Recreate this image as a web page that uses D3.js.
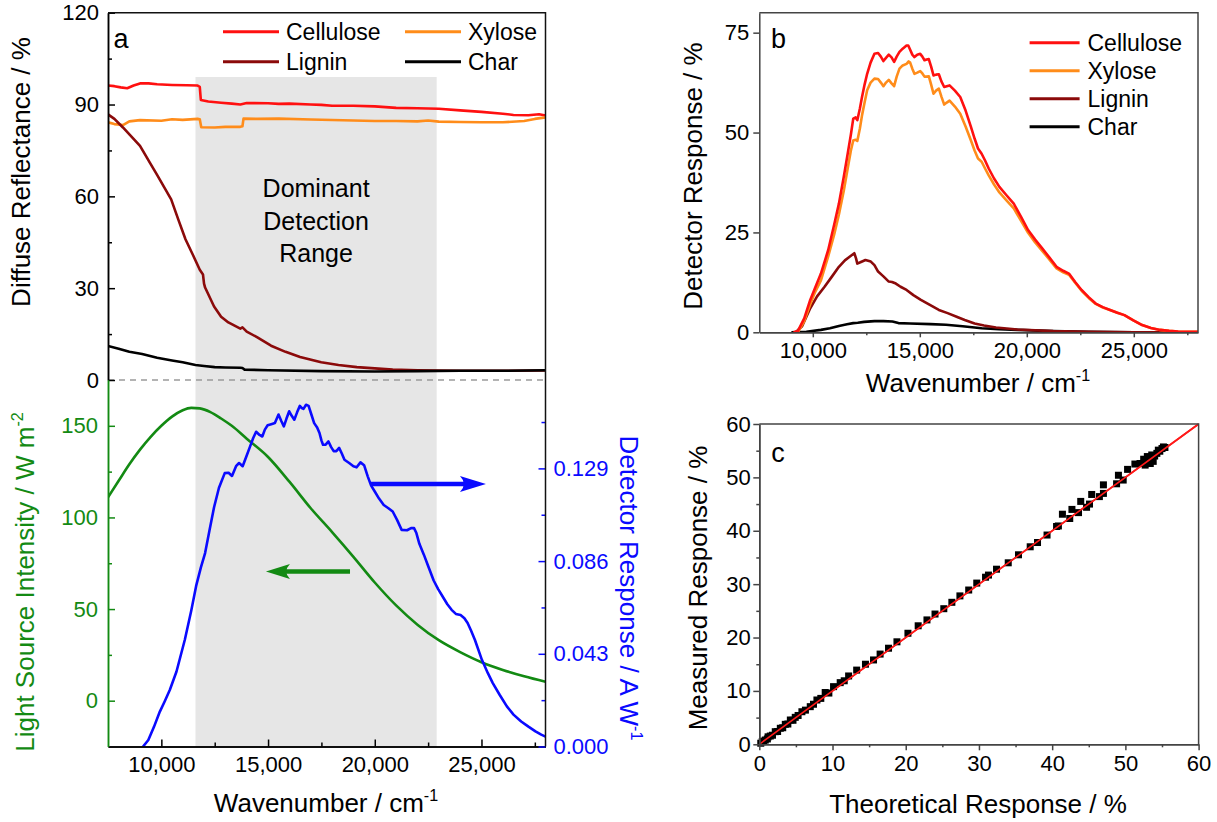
<!DOCTYPE html>
<html><head><meta charset="utf-8">
<script src="https://cdn.jsdelivr.net/npm/d3@7"></script>
<style>
body{margin:0;background:#fff;}
text{font-family:"Liberation Sans",Arial,sans-serif;}
</style></head><body>
<svg id="chart" width="1217" height="822"></svg>
<script>
// ---------------- DATA ----------------
const seriesNames = ["Cellulose","Xylose","Lignin","Char"];
const seriesColors = ["#ff1010","#ff8c1a","#8b0a0a","#000000"];

// Panel a (top): diffuse reflectance / %  [wavenumber, value]
const reflCellulose = [[7500,96.2],[7800,96.0],[8100,95.6],[8400,95.3],[8700,96.2],[9000,96.9],[9400,96.9],[9800,96.6],[10500,96.4],[11200,96.3],[11700,96.2],[11800,95.8],[11850,91.5],[12200,91.0],[12800,90.6],[13300,90.3],[13700,90.0],[14000,90.5],[15000,90.4],[15500,90.2],[16000,90.3],[17000,90.0],[17500,89.9],[18000,89.6],[19000,89.6],[20000,89.4],[21000,88.9],[22000,88.8],[23000,88.6],[24000,88.1],[25000,87.6],[26000,87.0],[26500,86.6],[27200,86.5],[27700,86.8],[28000,86.4]];
const reflXylose = [[7500,84.2],[7800,83.6],[8200,83.3],[8500,84.5],[9000,84.9],[10000,84.7],[10500,85.2],[11000,85.0],[11700,85.3],[11800,85.2],[11870,82.6],[12500,82.5],[13000,82.7],[13700,82.7],[13800,82.9],[13850,85.4],[14500,85.3],[15500,85.4],[17000,85.1],[19000,84.8],[20000,84.6],[21000,84.6],[22000,84.5],[22500,84.8],[23000,84.4],[24000,84.3],[25000,84.2],[26000,84.2],[27000,84.6],[27500,85.3],[28000,85.8]];
const reflLignin = [[7500,86.8],[7800,85.3],[8200,82.5],[8600,79.5],[9000,76.5],[9460,71],[9800,67],[10130,63],[10460,59],[10800,52.3],[11130,46],[11470,41],[11800,36],[11950,34.5],[12000,31.5],[12050,30.2],[12470,24],[12800,20.7],[13140,18.8],[13700,16.8],[13800,17.2],[14000,15.8],[14480,14.0],[15140,11.2],[15820,9.2],[16500,7.5],[17490,5.8],[18300,4.9],[19160,4.2],[20000,3.8],[20840,3.4],[22000,3.2],[24000,3.0],[26000,3.0],[28000,3.1]];
const reflChar = [[7500,11.1],[8000,10.2],[8500,9.2],[9100,8.5],[9800,7.3],[10500,6.4],[11000,5.8],[11600,4.9],[12000,4.6],[12500,4.2],[13000,4.1],[13700,4.0],[13800,3.9],[13900,3.4],[15000,3.2],[17500,2.9],[20000,2.8],[22000,2.9],[24000,3.0],[26000,3.0],[28000,3.2]];

// Panel a (bottom): light source intensity / W m^-2
const lightSource = [[7500,111],[8000,120],[8500,129],[9000,137],[9500,144],[10000,150],[10500,155],[11000,158.5],[11400,159.8],[11800,159.5],[12300,157.5],[12800,154],[13300,150],[14000,143],[15000,133],[16000,119.5],[17000,105],[18000,92],[19000,78.5],[20000,64.5],[21000,52],[22000,41.5],[23000,33],[24000,26.5],[25000,21],[26000,16.8],[27000,13.3],[28000,10.3]];
// Panel a (bottom): detector response / A W^-1
const detectorAW = [[8900,-0.003],[9145,0],[9390,0.003],[9650,0.009],[9930,0.0162],[10160,0.021],[10400,0.0263],[10710,0.0348],[11100,0.0495],[11400,0.063],[11630,0.0745],[11850,0.083],[12050,0.0897],[12250,0.1],[12470,0.111],[12700,0.12],[12970,0.1268],[13150,0.127],[13310,0.1255],[13500,0.13],[13640,0.1315],[13810,0.130],[14000,0.135],[14150,0.139],[14300,0.143],[14440,0.146],[14600,0.1445],[14730,0.1438],[14850,0.147],[14980,0.149],[15150,0.1495],[15320,0.150],[15490,0.154],[15620,0.151],[15740,0.1485],[15860,0.152],[15990,0.1555],[16100,0.1535],[16230,0.1516],[16360,0.155],[16490,0.158],[16580,0.157],[16660,0.1566],[16780,0.1585],[16900,0.158],[17030,0.154],[17160,0.150],[17300,0.148],[17410,0.1454],[17500,0.142],[17575,0.140],[17700,0.140],[17830,0.1415],[17950,0.139],[18075,0.137],[18200,0.137],[18330,0.1385],[18450,0.136],[18580,0.133],[18800,0.1315],[19000,0.130],[19150,0.1295],[19330,0.1318],[19500,0.1305],[19670,0.1253],[19830,0.121],[20000,0.1183],[20200,0.115],[20420,0.112],[20640,0.1105],[20840,0.109],[21050,0.105],[21260,0.1005],[21510,0.1003],[21700,0.1013],[21840,0.1013],[21950,0.099],[22090,0.094],[22300,0.089],[22510,0.0835],[22760,0.077],[22970,0.073],[23180,0.0696],[23400,0.066],[23600,0.0634],[23800,0.0615],[24020,0.061],[24200,0.0595],[24350,0.0573],[24500,0.054],[24690,0.0495],[25020,0.0402],[25300,0.034],[25530,0.0294],[25850,0.024],[26190,0.0186],[26500,0.0148],[26860,0.0116],[27200,0.0092],[27530,0.007],[27800,0.0055],[28000,0.0046]];

// shaded dominant detection range [from, to] wavenumber, and its top (reflectance %)
const detectionRange = [11600, 22900];
const detectionRangeTop = 99;
// arrows: [x1, x2, y] in data units
const arrowDetector = [19820, 25210, 0.1218];
const arrowLight = [18840, 14900, 70.5];

// Panel b: detector response / %
const respCellulose = [[9100,0],[9300,0.3],[9600,3.5],[9880,8.1],[10100,11],[10380,14.7],[10720,20.6],[11000,27],[11220,32.2],[11450,39],[11630,44.7],[11780,49.5],[11890,53.5],[12000,53.8],[12080,53.1],[12200,56],[12300,58.9],[12420,62],[12540,64.7],[12700,67.5],[12880,69.7],[13050,69.9],[13180,69],[13300,67.9],[13420,68.7],[13550,69.5],[13680,68.8],[13800,67.7],[13920,69],[14050,70.2],[14200,71],[14380,71.8],[14460,71.8],[14550,70.7],[14650,69.5],[14750,68.9],[14880,69.5],[15020,69.7],[15120,69],[15220,68.1],[15320,68.3],[15420,68.4],[15530,66.5],[15640,64.3],[15760,64.5],[15890,64.6],[16010,62.8],[16140,61.4],[16260,61.6],[16390,61.8],[16640,60.5],[16890,58.9],[17140,55.5],[17390,51.4],[17560,48.5],[17720,46],[17890,44.7],[18050,43],[18220,41],[18470,38.5],[18720,36.4],[19050,34.3],[19390,32.2],[19720,29],[20060,25.6],[20390,23.2],[20720,21],[21060,18.7],[21390,16.4],[21700,15.4],[21970,14.7],[22260,12.6],[22560,10.6],[22890,8.8],[23220,7.2],[23550,6.3],[23890,5.6],[24230,4.9],[24560,4.3],[24980,3],[25390,1.8],[25800,1.1],[26230,0.6],[26650,0.35],[27070,0.2],[27500,0.12],[28000,0.1]];
const respXylose = [[9300,0],[9600,2.8],[9880,7],[10100,10],[10380,13],[10720,19],[11000,24.5],[11220,29.5],[11450,35.5],[11630,41],[11780,45.5],[11890,48],[12000,48.2],[12080,47.9],[12200,51],[12300,54.3],[12420,57.5],[12540,60.6],[12700,62.5],[12880,63.5],[13050,63.4],[13180,62.5],[13300,61.6],[13420,62.5],[13550,63.2],[13680,62.3],[13800,61.6],[13920,64],[14050,66],[14200,66.8],[14380,67.2],[14480,67.8],[14550,67.5],[14650,66],[14750,64.7],[14880,65],[15020,65.4],[15120,64.8],[15220,64],[15320,64],[15420,64.1],[15530,62],[15640,59.7],[15760,60.5],[15890,61],[16010,59],[16140,57],[16260,57.5],[16390,58],[16640,56.5],[16890,54.7],[17140,51.5],[17390,48],[17560,45.5],[17720,43.5],[17890,42.7],[18050,41],[18220,39.3],[18470,37],[18720,35],[19050,33],[19390,31],[19720,28],[20060,24.9],[20390,22.5],[20720,20.4],[21060,18.2],[21390,16],[21700,15],[21970,14.4],[22260,12.4],[22560,10.4],[22890,8.6],[23220,7.1],[23550,6.2],[23890,5.6],[24230,4.9],[24560,4.3],[24980,3],[25390,1.8],[25800,1.1],[26230,0.6],[26650,0.35],[27070,0.2],[27500,0.12],[28000,0.1]];
const respLignin = [[9200,0],[9500,1.5],[9880,6],[10200,9],[10550,11.4],[10900,14],[11220,16.4],[11500,18],[11720,18.9],[11940,19.8],[12020,18.5],[12080,17.2],[12250,17.6],[12460,18.1],[12710,17.7],[12880,16.8],[13050,15.2],[13300,14],[13550,12.7],[13700,12.6],[13880,12.2],[14100,11.4],[14380,10.6],[14700,9.3],[15050,8.1],[15450,6.9],[15890,5.6],[16300,4.8],[16720,3.9],[17100,3.1],[17560,2.2],[18000,1.7],[18560,1.2],[19560,0.7],[21230,0.3],[22890,0.1],[25000,0.02],[28000,0]];
const respChar = [[9000,0],[9700,0.15],[10380,0.6],[10800,1.0],[11220,1.6],[11600,2],[11890,2.3],[12100,2.4],[12400,2.6],[12880,2.8],[13300,2.8],[13720,2.7],[14000,2.3],[14550,2.2],[15500,2.05],[16220,1.9],[17000,1.5],[17890,1.0],[18700,0.8],[19560,0.6],[21230,0.3],[22890,0.1],[25000,0.03],[28000,0]];

// Panel c: [theoretical %, measured %]
const theoreticalVsMeasured = [[0.2,0.2],[0.4,0.5],[0.6,0.6],[0.82,0.8],[1.1,1.0],[1.2,1.4],[1.5,1.55],[1.8,1.7],[2.18,2.36],[2.5,2.4],[2.87,3.0],[3.2,3.1],[3.55,3.74],[3.9,3.8],[4.24,4.55],[4.6,4.5],[4.91,5.05],[5.3,5.4],[5.82,6.1],[6.3,6.4],[6.96,7.05],[7.4,7.5],[7.87,8.3],[8.4,8.6],[9.0,9.7],[9.5,9.6],[10.14,10.8],[11.05,11.55],[11.6,11.9],[12.2,12.8],[13.3,13.9],[14.5,15.0],[15.6,15.8],[16.5,16.9],[17.65,18.0],[18.8,19.2],[20.3,20.8],[21.7,22.2],[22.9,23.3],[24.0,24.4],[25.2,25.4],[26.3,26.6],[27.4,27.8],[28.6,28.9],[29.7,30.2],[30.9,31.3],[31.3,31.7],[32.4,32.8],[34.0,34.0],[35.4,35.5],[37.0,37.0],[38.0,37.8],[39.3,39.2],[40.6,40.8],[40.85,40.9],[41.4,43.1],[42.4,42.3],[42.7,44.0],[43.6,43.4],[43.9,45.5],[44.7,44.4],[45.1,45.0],[45.4,46.8],[46.45,46.4],[47.0,48.6],[47.0,47.0],[48.8,48.8],[49.05,50.4],[49.7,49.5],[50.3,51.5],[51.3,52.5],[52.0,52.6],[52.5,53.4],[52.7,52.3],[53.2,53.6],[53.6,54.2],[53.8,53.0],[54.3,54.5],[54.5,55.1],[55.0,55.4],[55.2,55.7],[53.4,52.6],[53.0,53.9],[54.7,54.9],[54.0,54.0],[55.4,55.6]];
const idealLine = [[0,0],[60,60]];

// tick values
const wnMajor = [10000,15000,20000,25000];
const wnMinor = [12500,17500,22500,27500];
const reflMajor = [0,30,60,90,120];
const reflMinor = [15,45,75,105];
const lightMajor = [0,50,100,150];
const lightMinor = [25,75,125];
const detMajor = [0,0.043,0.086,0.129];
const detMinor = [0.0215,0.0645,0.1075,0.1505];
const respMajor = [0,25,50,75];
const cMajor = [0,10,20,30,40,50,60];
const cMinor = [5,15,25,35,45,55];

// ---------------- DRAW ----------------
const svg = d3.select("#chart");
const FONT = '"Liberation Sans", Arial, sans-serif';
const green = "#138a13", blue = "#0a0aff";
const fmtWn = d3.format(",");

function styleAxis(g, color, fs) {
  g.selectAll("path.domain").attr("stroke", color).attr("stroke-width", 1.5);
  g.selectAll(".tick line").attr("stroke", color).attr("stroke-width", 1.5);
  g.selectAll(".tick text").attr("fill", color).attr("font-size", fs).attr("font-family", FONT);
}
function supLabel(sel, main, sup, fs) {
  sel.append("tspan").text(main);
  sel.append("tspan").attr("dy", -fs*0.42).attr("font-size", fs*0.62).text(sup);
}

// ===== Panel a =====
const xA = d3.scaleLinear().domain([7500,28000]).range([108,545.5]);
const yRefl = d3.scaleLinear().domain([0,120]).range([380,12.7]);
const yLight = d3.scaleLinear().domain([-25,175]).range([746.5,380]);
const yDet = d3.scaleLinear().domain([0,0.17]).range([746.5,380]);

const defs = svg.append("defs");
defs.append("clipPath").attr("id","clipA").append("rect")
  .attr("x",108).attr("y",12.7).attr("width",437.5).attr("height",733.8);
defs.append("clipPath").attr("id","clipB").append("rect")
  .attr("x",759).attr("y",12.7).attr("width",439).attr("height",320);

// shaded range
svg.append("rect")
  .attr("x", xA(detectionRange[0])).attr("width", xA(detectionRange[1]) - xA(detectionRange[0]))
  .attr("y", yRefl(detectionRangeTop)).attr("height", yLight(-25) - yRefl(detectionRangeTop))
  .attr("fill", "#e6e6e6");

// zero dashed line
svg.append("line").attr("x1", xA(7500)).attr("x2", xA(28000))
  .attr("y1", yRefl(0)).attr("y2", yRefl(0))
  .attr("stroke", "#9a9a9a").attr("stroke-width", 1.5).attr("stroke-dasharray", "6,5");

const gA = svg.append("g").attr("clip-path","url(#clipA)");
const lineRefl = d3.line().x(d => xA(d[0])).y(d => yRefl(d[1]));
[reflCellulose, reflXylose, reflLignin, reflChar].forEach((data, i) => {
  gA.append("path").datum(data).attr("d", lineRefl)
    .attr("fill","none").attr("stroke", seriesColors[i]).attr("stroke-width", 2.6)
    .attr("stroke-linejoin","round");
});
gA.append("path").datum(lightSource)
  .attr("d", d3.line().curve(d3.curveMonotoneX).x(d => xA(d[0])).y(d => yLight(d[1])))
  .attr("fill","none").attr("stroke", green).attr("stroke-width", 2.6);
gA.append("path").datum(detectorAW)
  .attr("d", d3.line().x(d => xA(d[0])).y(d => yDet(d[1])))
  .attr("fill","none").attr("stroke", blue).attr("stroke-width", 2.6).attr("stroke-linejoin","round");

// arrows
function arrow(x1, x2, y, color, w, headL, headH) {
  const dir = Math.sign(x2 - x1);
  svg.append("line").attr("x1", x1).attr("x2", x2 - dir*headL*0.8).attr("y1", y).attr("y2", y)
    .attr("stroke", color).attr("stroke-width", w);
  svg.append("path")
    .attr("d", `M${x2},${y} L${x2 - dir*headL},${y - headH} Q${x2 - dir*headL*0.7},${y} ${x2 - dir*headL},${y + headH} Z`)
    .attr("fill", color);
}
arrow(xA(arrowDetector[0]), xA(arrowDetector[1]), yDet(arrowDetector[2]), blue, 4.5, 26, 8);
arrow(xA(arrowLight[0]), xA(arrowLight[1]), yLight(arrowLight[2]), green, 4.5, 24, 7.5);

// axes panel a
const axA = svg.append("g").attr("transform", `translate(0,${yLight(-25)})`)
  .call(d3.axisBottom(xA).tickValues(wnMajor).tickFormat(fmtWn).tickSizeInner(-7).tickSizeOuter(0).tickPadding(10));
styleAxis(axA, "#000", 22);
const axAm = svg.append("g").attr("transform", `translate(0,${yLight(-25)})`)
  .call(d3.axisBottom(xA).tickValues(wnMinor).tickFormat("").tickSizeInner(-4).tickSizeOuter(0));
styleAxis(axAm, "#000", 22);

const ayR = svg.append("g").attr("transform", `translate(${xA(7500)},0)`)
  .call(d3.axisLeft(yRefl).tickValues(reflMajor).tickSizeInner(-7).tickSizeOuter(0).tickPadding(9));
styleAxis(ayR, "#000", 22);
const ayRm = svg.append("g").attr("transform", `translate(${xA(7500)},0)`)
  .call(d3.axisLeft(yRefl).tickValues(reflMinor).tickFormat("").tickSizeInner(-4).tickSizeOuter(0));
styleAxis(ayRm, "#000", 22);

const ayL = svg.append("g").attr("transform", `translate(${xA(7500)},0)`)
  .call(d3.axisLeft(yLight).tickValues(lightMajor).tickSizeInner(-7).tickSizeOuter(0).tickPadding(10));
styleAxis(ayL, green, 22);
const ayLm = svg.append("g").attr("transform", `translate(${xA(7500)},0)`)
  .call(d3.axisLeft(yLight).tickValues(lightMinor).tickFormat("").tickSizeInner(-4).tickSizeOuter(0));
styleAxis(ayLm, green, 22);

const ayD = svg.append("g").attr("transform", `translate(${xA(28000)},0)`)
  .call(d3.axisRight(yDet).tickValues(detMajor).tickFormat(d3.format(".3f")).tickSizeInner(-7).tickSizeOuter(0).tickPadding(8));
styleAxis(ayD, blue, 22);
ayD.select("path.domain").remove();
const ayDm = svg.append("g").attr("transform", `translate(${xA(28000)},0)`)
  .call(d3.axisRight(yDet).tickValues(detMinor).tickFormat("").tickSizeInner(-4).tickSizeOuter(0));
styleAxis(ayDm, blue, 22);
ayDm.select("path.domain").remove();

// frame top & right
svg.append("path").attr("d", `M${xA(7500)},${yRefl(120)} H${xA(28000)} V${yLight(-25)}`)
  .attr("fill","none").attr("stroke","#111").attr("stroke-width",1.5);

// legend a
const legA = [[0,0],[1,0],[0,1],[1,1]];
const legOrder = [0,1,2,3];
legOrder.forEach((si, k) => {
  const col = legA[k][0], row = legA[k][1];
  const x0 = col === 0 ? 223 : 405;
  const y0 = 31.7 + row*30;
  svg.append("line").attr("x1", x0).attr("x2", x0 + 56).attr("y1", y0).attr("y2", y0)
    .attr("stroke", seriesColors[si]).attr("stroke-width", 3);
  svg.append("text").attr("x", x0 + 63).attr("y", y0).attr("dy", "0.36em")
    .attr("font-size", 23).text(seriesNames[si]);
});
svg.append("text").attr("x", 121).attr("y", 48).attr("text-anchor","middle").attr("font-size", 27).text("a");

// Dominant detection range label
["Dominant","Detection","Range"].forEach((t, i) => {
  svg.append("text").attr("x", (xA(detectionRange[0]) + xA(detectionRange[1]))/2)
    .attr("y", 197 + i*32.5).attr("text-anchor","middle").attr("font-size", 25).text(t);
});

// axis titles a
svg.append("text").attr("transform","translate(29.5,172) rotate(-90)").attr("text-anchor","middle")
  .attr("font-size", 26).text("Diffuse Reflectance / %");
supLabel(svg.append("text").attr("transform","translate(33.5,582) rotate(-90)").attr("text-anchor","middle")
  .attr("font-size", 26).attr("fill", green), "Light Source Intensity / W m", "-2", 26);
supLabel(svg.append("text").attr("transform","translate(620,588) rotate(90)").attr("text-anchor","middle")
  .attr("font-size", 26).attr("fill", blue), "Detector Response / A W", "-1", 26);
supLabel(svg.append("text").attr("x", 326).attr("y", 812).attr("text-anchor","middle")
  .attr("font-size", 26), "Wavenumber / cm", "-1", 26);

// ===== Panel b =====
const xB = d3.scaleLinear().domain([7500,28000]).range([759.3,1198]);
const yB = d3.scaleLinear().domain([0,80]).range([332.3,12.7]);
const gB = svg.append("g").attr("clip-path","url(#clipB)");
const lineB = d3.line().x(d => xB(d[0])).y(d => yB(d[1]));
[respChar, respLignin, respXylose, respCellulose].forEach((data) => {
  const i = [respCellulose, respXylose, respLignin, respChar].indexOf(data);
  gB.append("path").datum(data).attr("d", lineB)
    .attr("fill","none").attr("stroke", seriesColors[i]).attr("stroke-width", 2.6).attr("stroke-linejoin","round");
});
const frameCol = "#444";
const axB = svg.append("g").attr("transform", `translate(0,${yB(0)})`)
  .call(d3.axisBottom(xB).tickValues(wnMajor).tickFormat(fmtWn).tickSizeInner(5).tickSizeOuter(0).tickPadding(5));
styleAxis(axB, "#000", 22);
axB.select("path.domain").attr("stroke", frameCol);
axB.selectAll(".tick line").attr("stroke", frameCol);
const axBm = svg.append("g").attr("transform", `translate(0,${yB(0)})`)
  .call(d3.axisBottom(xB).tickValues(wnMinor).tickFormat("").tickSizeInner(3).tickSizeOuter(0));
styleAxis(axBm, frameCol, 22);
const ayB = svg.append("g").attr("transform", `translate(${xB(7500)},0)`)
  .call(d3.axisLeft(yB).tickValues(respMajor).tickSizeInner(6).tickSizeOuter(0).tickPadding(4));
styleAxis(ayB, "#000", 22);
ayB.select("path.domain").attr("stroke", frameCol);
ayB.selectAll(".tick line").attr("stroke", frameCol);
svg.append("path").attr("d", `M${xB(7500)},${yB(80)} H${xB(28000)} V${yB(0)}`)
  .attr("fill","none").attr("stroke", frameCol).attr("stroke-width",1.5);

seriesNames.forEach((n, i) => {
  const y0 = 42.7 + i*28;
  svg.append("line").attr("x1", 1029.6).attr("x2", 1079.6).attr("y1", y0).attr("y2", y0)
    .attr("stroke", seriesColors[i]).attr("stroke-width", 3);
  svg.append("text").attr("x", 1087.5).attr("y", y0).attr("dy","0.36em").attr("font-size", 23).text(n);
});
svg.append("text").attr("x", 778.5).attr("y", 48.3).attr("text-anchor","middle").attr("font-size", 27).text("b");
svg.append("text").attr("transform","translate(701.5,176) rotate(-90)").attr("text-anchor","middle")
  .attr("font-size", 26).text("Detector Response / %");
supLabel(svg.append("text").attr("x", 978).attr("y", 392).attr("text-anchor","middle")
  .attr("font-size", 26), "Wavenumber / cm", "-1", 26);

// ===== Panel c =====
const xC = d3.scaleLinear().domain([0,60]).range([759.3,1198.6]);
const yC = d3.scaleLinear().domain([0,60]).range([744.3,424]);
svg.append("path").datum(idealLine)
  .attr("d", d3.line().x(d => xC(d[0])).y(d => yC(d[1])))
  .attr("stroke","#ff1a1a").attr("stroke-width",1.6).attr("fill","none");
const sq = 7;
svg.append("g").selectAll("rect").data(theoreticalVsMeasured).join("rect")
  .attr("x", d => xC(d[0]) - sq/2).attr("y", d => yC(d[1]) - sq/2)
  .attr("width", sq).attr("height", sq).attr("fill", "#000");
// redraw red line on top (as in reference, it runs through the squares)
svg.append("path").datum(idealLine)
  .attr("d", d3.line().x(d => xC(d[0])).y(d => yC(d[1])))
  .attr("stroke","#ff1a1a").attr("stroke-width",1.6).attr("fill","none");

const axC = svg.append("g").attr("transform", `translate(0,${yC(0)})`)
  .call(d3.axisBottom(xC).tickValues(cMajor).tickSizeInner(6).tickSizeOuter(0).tickPadding(5));
styleAxis(axC, "#000", 22);
axC.select("path.domain").attr("stroke", frameCol);
axC.selectAll(".tick line").attr("stroke", frameCol);
const axCm = svg.append("g").attr("transform", `translate(0,${yC(0)})`)
  .call(d3.axisBottom(xC).tickValues(cMinor).tickFormat("").tickSizeInner(3).tickSizeOuter(0));
styleAxis(axCm, frameCol, 22);
const ayC = svg.append("g").attr("transform", `translate(${xC(0)},0)`)
  .call(d3.axisLeft(yC).tickValues(cMajor).tickSizeInner(6).tickSizeOuter(0).tickPadding(2.5));
styleAxis(ayC, "#000", 22);
ayC.select("path.domain").attr("stroke", frameCol);
ayC.selectAll(".tick line").attr("stroke", frameCol);
const ayCm = svg.append("g").attr("transform", `translate(${xC(0)},0)`)
  .call(d3.axisLeft(yC).tickValues(cMinor).tickFormat("").tickSizeInner(3).tickSizeOuter(0));
styleAxis(ayCm, frameCol, 22);
svg.append("path").attr("d", `M${xC(0)},${yC(60)} H${xC(60)} V${yC(0)}`)
  .attr("fill","none").attr("stroke", frameCol).attr("stroke-width",1.5);

svg.append("text").attr("x", 778).attr("y", 461.7).attr("text-anchor","middle").attr("font-size", 27).text("c");
svg.append("text").attr("transform","translate(707,588) rotate(-90)").attr("text-anchor","middle")
  .attr("font-size", 26).text("Measured Response / %");
svg.append("text").attr("x", 978).attr("y", 813).attr("text-anchor","middle")
  .attr("font-size", 26).text("Theoretical Response / %");
</script>
</body></html>
